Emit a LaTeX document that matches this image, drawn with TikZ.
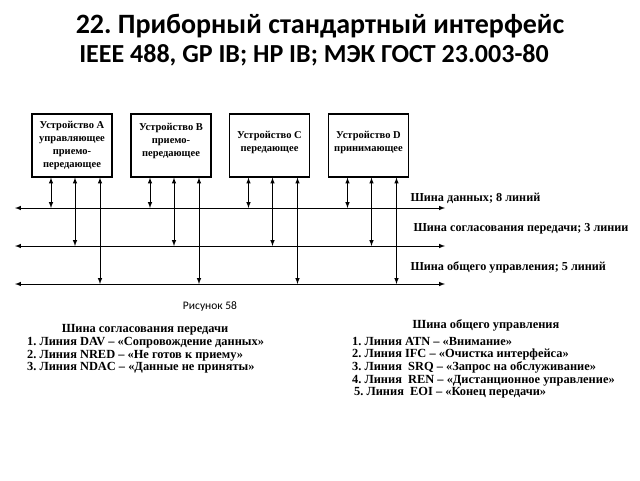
\documentclass[tikz,border=0pt]{standalone}
\usepackage{fontspec}
\setmainfont{Liberation Serif}
\newfontfamily\calibri{Carlito}
\frenchspacing

\tikzset{
  >=latex,
  device/.style={draw, line width=1.2pt, minimum width=80pt, minimum height=63pt,
    align=center, inner sep=1pt, font=\bfseries\fontsize{10.5}{13}\selectfont},
  bus/.style={<->, line width=1pt},
  link/.style={<->, line width=1pt},
  buslabel/.style={anchor=west, font=\bfseries\fontsize{12.2}{14}\selectfont},
  listhead/.style={font=\bfseries\fontsize{12.4}{12.5}\selectfont},
  listbody/.style={anchor=north west, align=left, inner sep=0pt,
    font=\bfseries\fontsize{12.4}{12.6}\selectfont}
}

\begin{document}
\begin{tikzpicture}[x=1pt, y=-1pt]
    \useasboundingbox (0,0) rectangle (640,480);

    % Title
    \node[anchor=base, font=\calibri\bfseries\fontsize{28}{30}\selectfont] (title) at (320,33) {22. Приборный стандартный интерфейс};
    \node[anchor=base, font=\calibri\bfseries\fontsize{26}{30}\selectfont] (subtitle) at (314,62) {IEEE 488, GP IB; HP IB; МЭК ГОСТ 23.003-80};

    % Devices
    \node[device] (devA) at (72,145.5) {Устройство A\\управляющее\\приемо-\\передающее};
    \node[device] (devB) at (171,145.5) {Устройство B\\приемо-\\передающее\\[-2pt]};
    \node[device] (devC) at (269.5,145.5) {Устройство C\\передающее\\[-4pt]};
    \node[device] (devD) at (368.5,145.5) {Устройство D\\принимающее\\[-4pt]};

    % Bus end points
    \coordinate (busD-w) at (15,208);   \coordinate (busD-e) at (445,208); % data bus
    \coordinate (busH-w) at (15,246);   \coordinate (busH-e) at (445,246); % handshake bus
    \coordinate (busM-w) at (15,284);   \coordinate (busM-e) at (445,284); % management bus

    % Draw the buses
    \draw[bus] (busD-w) -- (busD-e);
    \draw[bus] (busH-w) -- (busH-e);
    \draw[bus] (busM-w) -- (busM-e);

    % Bus labels
    \node[buslabel] (lblD) at (407,198) {Шина данных; 8 линий};
    \node[buslabel] (lblH) at (410,229) {Шина согласования передачи; 3 линии};
    \node[buslabel] (lblM) at (407,267) {Шина общего управления; 5 линий};

    % Links from each device to the three buses
    \foreach \d in {A,B,C,D} {
        \draw[link] ([xshift=-21pt]dev\d.south) -- ([xshift=-21pt]dev\d.south |- busD-w);
        \draw[link] ([xshift=3pt]dev\d.south) -- ([xshift=3pt]dev\d.south |- busH-w);
        \draw[link] ([xshift=28pt]dev\d.south) -- ([xshift=28pt]dev\d.south |- busM-w);
    }

    % Caption
    \node[font=\calibri\fontsize{11.5}{13}\selectfont] (caption) at (210,306) {Рисунок 58};

    % Handshake lines
    \node[listhead] (headH) at (145,330) {Шина согласования передачи};
    \node[listbody] (listH) at (27,337) {1. Линия DAV – «Сопровождение данных»\\
        2. Линия NRED – «Не готов к приему»\\
        3. Линия NDAC – «Данные не приняты»};

    % Management lines
    \node[listhead] (headM) at (486,325) {Шина общего управления};
    \node[listbody] (listM) at (352,337) {1. Линия ATN – «Внимание»\\
        2. Линия IFC – «Очистка интерфейса»\\
        3. Линия\ \ SRQ – «Запрос на обслуживание»\\
        4. Линия\ \ REN – «Дистанционное управление»\\
        \hspace{2pt}5. Линия\ \ EOI – «Конец передачи»};

\end{tikzpicture}
\end{document}
